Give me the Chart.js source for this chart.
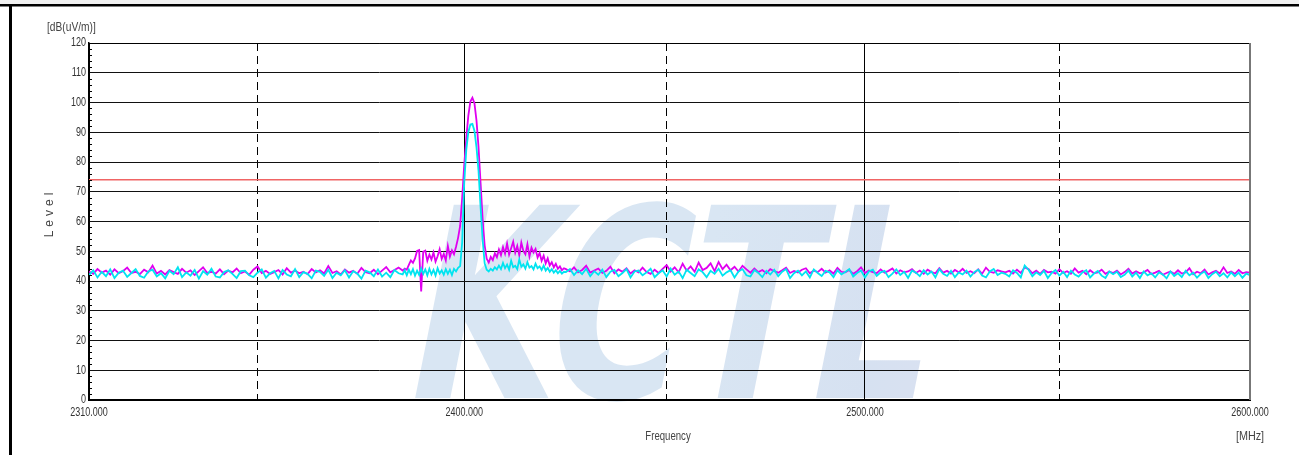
<!DOCTYPE html>
<html>
<head>
<meta charset="utf-8">
<script src="https://cdn.jsdelivr.net/npm/chart.js@4.4.1/dist/chart.umd.min.js"></script>
<style>
  html, body { margin: 0; padding: 0; background: #fff; }
  #wrap { position: relative; width: 1299px; height: 455px; }
</style>
</head>
<body>
<div id="wrap"><canvas id="emi" width="1299" height="455"></canvas></div>
<script>
// frequency grid (MHz): 1 MHz steps outside the signal, 0.5 MHz steps around it
const lowStart = 2310, midStart = 2385, highStart = 2425;

const xTicks = [2310, 2350, 2400, 2450, 2500, 2550, 2600];
const xLabelled = [2310, 2400, 2500, 2600];
const xDashed = [2350, 2450, 2550];
const limitLevel = 74;

// 2310 .. 2384, 1 MHz
const magentaLow = [
  43.2, 42.4, 44.0, 42.8, 43.5, 42.1, 43.9, 42.6, 43.3, 44.5,
  42.7, 43.1, 42.3, 43.8, 42.9, 45.2, 42.5, 43.4, 42.2, 43.7,
  43.0, 42.4, 44.1, 42.8, 43.6, 42.0, 43.3, 44.6, 42.7, 43.1,
  42.5, 43.9, 42.3, 43.5, 42.9, 44.2, 42.6, 43.2, 42.1, 43.8,
  44.9, 42.7, 43.4, 42.4, 43.0, 43.7, 42.2, 44.3, 42.8, 43.5,
  42.6, 43.1, 42.3, 44.0, 42.9, 43.6, 42.5, 45.0, 42.7, 43.3,
  42.2, 43.9, 42.8, 43.4, 42.4, 44.4, 43.0, 42.6, 43.8, 42.3,
  43.5, 44.7, 42.9, 43.7, 44.5
];
const cyanLow = [
  42.0, 43.6, 41.2, 43.1, 41.6, 43.9, 41.0, 42.8, 43.5, 41.4,
  42.7, 44.0, 41.7, 41.1, 43.2, 43.8, 41.5, 42.6, 40.9, 43.4,
  42.3, 44.6, 41.3, 42.9, 41.8, 43.7, 40.8, 43.3, 42.1, 44.1,
  41.5, 41.2, 43.0, 43.6, 42.4, 41.0, 43.3, 43.5, 41.9, 41.3,
  42.8, 43.9, 41.1, 42.6, 43.4, 40.9, 43.7, 42.2, 41.6, 44.0,
  41.3, 43.0, 42.4, 40.9, 43.5, 43.1, 41.7, 43.8, 41.0, 42.8,
  41.9, 43.6, 41.2, 43.3, 42.5, 40.8, 43.5, 42.9, 41.6, 43.9,
  41.5, 42.8, 41.3, 43.7, 42.6
];

// 2385 .. 2424.5, 0.5 MHz
const magentaMid = [
  43.5, 44.2, 43.8, 45.4, 46.9, 46.1, 47.6, 50.1, 50.4, 36.5,
  49.8, 50.2, 46.8, 48.9, 47.2, 49.6, 46.5, 48.3, 50.7, 47.4,
  49.1, 46.9, 51.8, 48.2, 50.3, 49.0, 51.5, 54.5, 58.5, 68.0,
  79.0, 88.0, 95.5, 100.3, 101.6, 99.8, 94.0, 85.0, 73.0, 61.0,
  52.0, 47.5, 46.2, 48.1, 47.0, 49.3, 48.0, 50.6, 48.7, 51.4,
  49.2, 52.6, 48.9, 51.0, 53.2, 49.5, 51.8, 48.6, 52.9, 50.1,
  49.0, 52.4, 48.3, 51.2, 49.6, 50.8, 47.9, 49.4, 46.8, 48.5,
  45.9, 47.6, 45.2, 46.3, 44.6, 45.8, 44.1, 44.9, 43.6, 44.3
];
const cyanMid = [
  42.2, 43.6, 41.9, 43.8, 42.3, 44.0, 41.8, 43.5, 42.1, 44.2,
  42.4, 43.9, 41.9, 44.1, 42.2, 43.7, 41.8, 44.3, 42.5, 43.6,
  42.1, 44.0, 42.4, 43.8, 42.0, 44.1, 43.2, 44.4, 45.0, 53.0,
  73.0, 84.0, 90.0, 92.6, 92.8, 90.5, 85.0, 77.0, 65.0, 54.0,
  46.0, 43.8, 43.2, 44.1, 43.5, 44.6, 43.9, 45.2, 44.0, 46.1,
  44.3, 45.5, 43.8, 46.8, 44.6, 45.1, 44.0, 47.2, 44.8, 45.6,
  44.2, 46.3, 44.5, 45.0, 43.9, 45.8, 44.3, 44.9, 43.7, 45.2,
  43.5, 44.4, 43.1, 44.0, 42.8, 43.6, 42.6, 43.4, 42.5, 43.1
];

// 2425 .. 2600, 1 MHz
const magentaHigh = [
  44.0, 43.2, 44.6, 42.9, 43.7, 45.1, 42.8, 43.5, 44.2, 42.7,
  43.4, 44.8, 42.6, 43.9, 43.1, 44.3, 42.5, 43.6, 42.9, 44.5,
  43.0, 42.4, 43.8, 42.7, 44.1, 45.3, 43.2, 44.6, 42.9, 45.8,
  43.5, 44.9, 43.1, 46.2, 43.7, 44.4, 45.9, 43.3, 46.4, 44.0,
  45.5, 43.6, 44.8, 43.2, 45.1, 43.9, 42.8, 44.2, 43.0, 43.7,
  42.6, 44.0, 43.3, 42.8, 43.6, 44.5, 42.7, 43.4, 42.9, 43.8,
  44.3, 42.6, 43.5, 43.0, 44.1, 42.8, 43.6, 42.5, 44.4, 43.1,
  42.9, 43.7, 42.4, 43.3, 44.6, 42.7, 43.5, 43.0, 42.6, 43.9,
  42.8, 43.4, 44.2, 42.5, 43.6, 42.9, 43.2, 44.0, 42.7, 43.5,
  42.4, 43.8, 43.0, 42.6, 44.3, 42.8, 43.4, 42.5, 43.7, 42.9,
  44.1, 42.7, 43.3, 42.6, 43.9, 42.4, 44.5, 43.1, 42.8, 43.6,
  43.2, 42.9, 43.4, 42.5, 43.8, 42.7, 44.6, 44.0, 42.6, 43.5,
  42.4, 43.7, 42.9, 43.1, 42.5, 43.9, 42.7, 43.3, 42.4, 44.2,
  42.8, 43.4, 42.3, 43.6, 42.6, 42.9, 43.8, 42.4, 43.2, 42.7,
  43.5, 42.2, 43.0, 44.1, 42.5, 43.3, 42.6, 42.9, 43.7, 42.3,
  42.8, 43.4, 42.1, 42.7, 43.2, 42.4, 43.6, 42.5, 42.9, 44.3,
  42.3, 43.1, 42.6, 43.8, 42.2, 42.9, 43.4, 42.5, 44.6, 42.7,
  43.2, 42.4, 43.7, 42.6, 43.0, 42.8
];
const cyanHigh = [
  43.0, 44.0, 42.0, 43.6, 42.3, 44.1, 41.6, 43.3, 42.1, 43.8,
  41.3, 43.1, 43.7, 41.6, 42.7, 44.0, 41.2, 43.2, 43.5, 41.9,
  42.9, 44.1, 41.3, 42.6, 43.6, 41.5, 44.2, 42.1, 43.2, 41.0,
  43.8, 42.7, 41.6, 43.9, 43.0, 41.3, 43.4, 42.4, 44.1, 41.8,
  42.9, 43.6, 41.2, 43.2, 44.0, 41.9, 41.5, 43.7, 42.7, 41.3,
  43.4, 42.2, 43.8, 41.6, 43.1, 44.0, 41.0, 42.6, 43.5, 41.9,
  43.2, 41.2, 43.9, 42.7, 41.7, 43.4, 42.9, 41.3, 43.6, 42.2,
  43.0, 44.0, 41.5, 42.7, 43.5, 41.2, 43.2, 43.8, 41.7, 42.9,
  43.4, 41.3, 42.5, 43.9, 42.0, 43.1, 41.0, 43.5, 42.8, 41.6,
  43.6, 42.2, 43.2, 41.2, 44.0, 42.4, 41.7, 43.4, 41.3, 42.9,
  42.2, 43.5, 41.5, 43.0, 43.8, 41.8, 41.2, 43.2, 44.0, 42.0,
  42.8, 42.4, 41.5, 43.6, 42.7, 41.2, 45.2, 43.8, 41.6, 42.9,
  42.0, 43.4, 41.0, 42.7, 43.7, 41.8, 43.1, 41.3, 43.5, 42.2,
  41.5, 42.9, 43.6, 41.2, 42.5, 43.4, 41.8, 41.0, 43.2, 42.3,
  43.1, 41.3, 42.1, 43.5, 41.5, 42.8, 41.0, 43.2, 41.9, 42.6,
  41.2, 42.9, 42.2, 40.9, 43.2, 41.7, 42.6, 41.3, 43.4, 41.9,
  42.8, 41.1, 42.4, 43.2, 41.0, 42.3, 43.1, 41.6, 42.6, 41.2,
  42.9, 41.6, 42.8, 41.1, 42.5, 42.0
];

const freqs = [];
magentaLow.forEach((v, i) => freqs.push(lowStart + i));
magentaMid.forEach((v, i) => freqs.push(midStart + i * 0.5));
magentaHigh.forEach((v, i) => freqs.push(highStart + i));

const magenta = magentaLow.concat(magentaMid, magentaHigh);
const cyan = cyanLow.concat(cyanMid, cyanHigh);

const FONT = '"Liberation Sans", Arial, sans-serif';

// narrow text, like the analyser's condensed font
function narrowText(ctx, text, x, y, align, squeeze) {
  ctx.save();
  ctx.translate(x, y);
  ctx.scale(squeeze, 1);
  ctx.textAlign = align;
  ctx.fillText(text, 0, 0);
  ctx.restore();
}

const framePlugin = {
  id: 'frame',
  beforeDraw(chart) {
    const ctx = chart.ctx;
    const area = chart.chartArea;
    ctx.save();
    ctx.fillStyle = '#fff';
    ctx.fillRect(0, 0, chart.width, chart.height);
    ctx.fillStyle = '#f0f0f0';
    ctx.fillRect(0, 0, chart.width, 4);
    ctx.fillStyle = '#000';
    ctx.fillRect(0, 4, chart.width, 2.5);
    ctx.fillRect(9, 4, 3, chart.height - 4);

    // KCTL watermark, behind the grid
    ctx.beginPath();
    ctx.rect(area.left, area.top, area.right - area.left, chart.height - area.top);
    ctx.clip();
    ctx.font = 'bold 265px "DejaVu Sans", sans-serif';
    ctx.textBaseline = 'alphabetic';
    const w = ctx.measureText('KCTL').width;
    const grad = ctx.createLinearGradient(400, 0, 920, 0);
    grad.addColorStop(0, '#d9e6f3');
    grad.addColorStop(0.5, '#d6e1f1');
    grad.addColorStop(1, '#dfe1f1');
    ctx.fillStyle = grad;
    ctx.translate(398, 398);
    ctx.transform(1, 0, -0.2, 1, 0, 0);
    ctx.scale(520 / w, 1);
    ctx.fillText('KCTL', 0, 0);
    ctx.restore();
  },
  afterDraw(chart) {
    const ctx = chart.ctx;
    const area = chart.chartArea;
    const x = chart.scales.x;
    const y = chart.scales.y;
    ctx.save();
    // minor ticks on the level axis
    ctx.strokeStyle = '#000';
    ctx.lineWidth = 1;
    ctx.beginPath();
    for (let v = 2; v < 120; v += 2) {
      if (v % 10 === 0) continue;
      const py = Math.round(y.getPixelForValue(v)) + 0.5;
      ctx.moveTo(area.left, py);
      ctx.lineTo(area.left + 3, py);
    }
    ctx.stroke();
    // plot frame top / right
    ctx.beginPath();
    ctx.moveTo(area.left, area.top + 0.5);
    ctx.lineTo(area.right, area.top + 0.5);
    ctx.stroke();
    ctx.strokeStyle = '#777';
    ctx.lineWidth = 2;
    ctx.beginPath();
    ctx.moveTo(area.right, area.top);
    ctx.lineTo(area.right, area.bottom);
    ctx.stroke();

    // tick labels from the chart's own scales
    ctx.fillStyle = '#333';
    ctx.font = '12px ' + FONT;
    ctx.textBaseline = 'middle';
    y.ticks.forEach(t => {
      narrowText(ctx, String(t.value), area.left - 3, y.getPixelForValue(t.value), 'right', 0.75);
    });
    x.ticks.forEach(t => {
      if (!xLabelled.includes(t.value)) return;
      narrowText(ctx, t.value.toFixed(3), x.getPixelForValue(t.value), area.bottom + 13, 'center', 0.75);
    });

    // axis titles
    ctx.fillStyle = '#444';
    ctx.font = '12px ' + FONT;
    narrowText(ctx, '[dB(uV/m)]', 47, 28, 'left', 0.85);
    narrowText(ctx, 'Frequency', 668, 437, 'center', 0.8);
    narrowText(ctx, '[MHz]', 1250, 437, 'center', 0.9);
    ctx.translate(50, 215);
    ctx.rotate(-Math.PI / 2);
    ctx.letterSpacing = '4px';
    ctx.textAlign = 'center';
    ctx.fillText('Level', 2, 0);
    ctx.restore();
  }
};

new Chart(document.getElementById('emi'), {
  type: 'line',
  data: {
    datasets: [
      {
        label: 'Limit',
        data: [{ x: 2310, y: limitLevel }, { x: 2600, y: limitLevel }],
        borderColor: '#f06464',
        borderWidth: 1.5,
        pointRadius: 0,
        order: 3
      },
      {
        label: 'Peak',
        data: freqs.map((f, i) => ({ x: f, y: magenta[i] })),
        borderColor: '#e000f0',
        borderWidth: 1.8,
        pointRadius: 0,
        tension: 0,
        order: 2
      },
      {
        label: 'Average',
        data: freqs.map((f, i) => ({ x: f, y: cyan[i] })),
        borderColor: '#00e4f0',
        borderWidth: 1.8,
        pointRadius: 0,
        tension: 0,
        order: 1
      }
    ]
  },
  options: {
    responsive: false,
    animation: false,
    devicePixelRatio: 1,
    layout: { padding: { left: 0, top: 43, right: 49, bottom: 0 } },
    plugins: { legend: { display: false }, tooltip: { enabled: false } },
    scales: {
      x: {
        type: 'logarithmic',
        min: 2310,
        max: 2600,
        afterBuildTicks: s => { s.ticks = xTicks.map(v => ({ value: v })); },
        afterFit: s => { s.height = 55; },
        ticks: { display: false, autoSkip: false, maxRotation: 0 },
        grid: {
          drawTicks: false,
          color: c => (c.tick && c.tick.value === 2600) ? 'rgba(0,0,0,0)' : '#000',
          lineWidth: 1
        },
        border: {
          color: '#000',
          width: 2,
          dash: c => (c.tick && xDashed.includes(c.tick.value)) ? [8, 5] : []
        }
      },
      y: {
        min: 0,
        max: 120,
        afterFit: s => { s.width = 89; },
        ticks: { display: false, stepSize: 10 },
        grid: { drawTicks: false, color: '#111', lineWidth: 1 },
        border: { color: '#000', width: 1.5 }
      }
    }
  },
  plugins: [framePlugin]
});
</script>
</body>
</html>
